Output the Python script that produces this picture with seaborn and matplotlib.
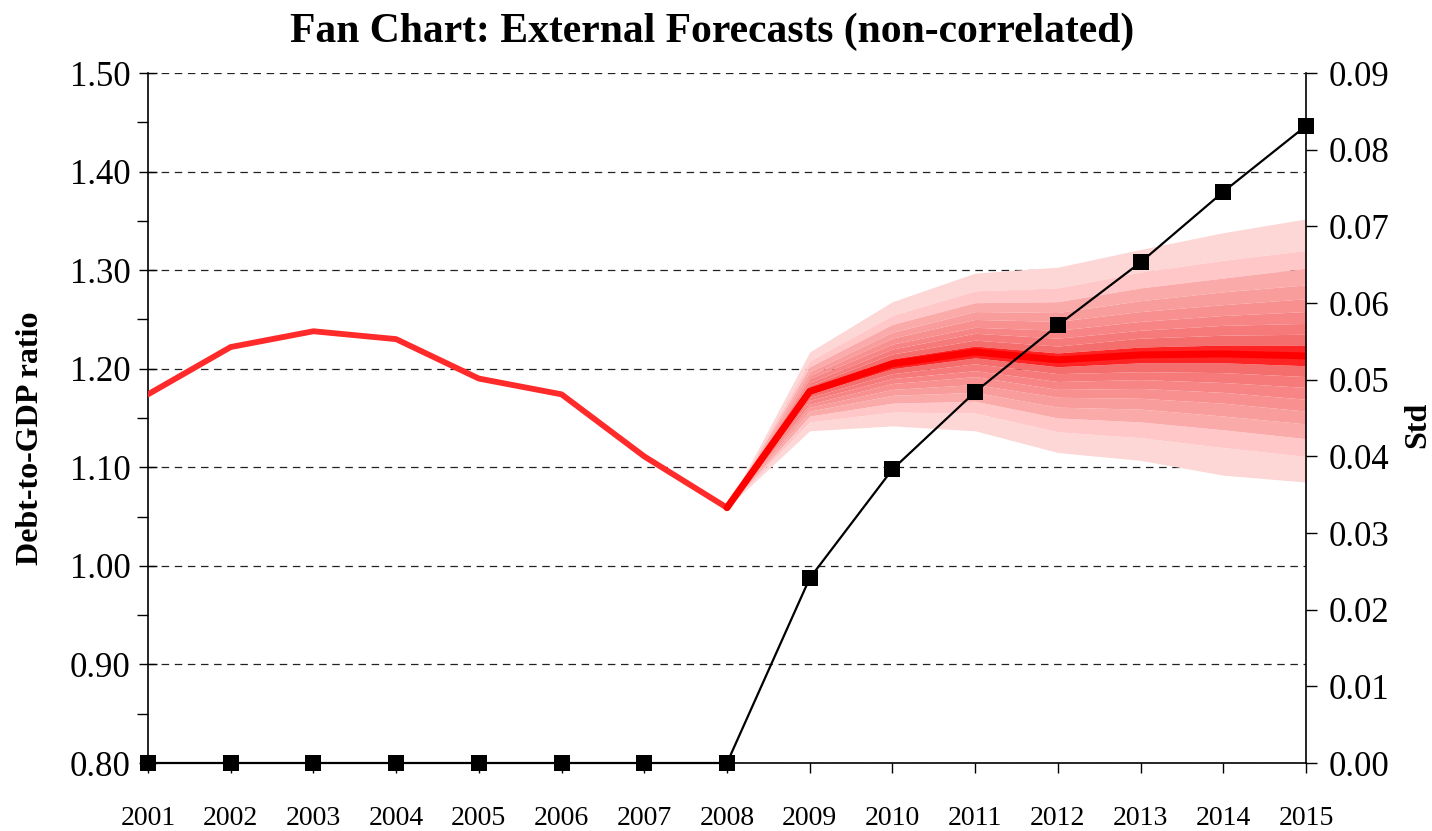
import matplotlib
matplotlib.use("Agg")
import matplotlib.pyplot as plt
from matplotlib.ticker import MultipleLocator, FormatStrFormatter
import pandas as pd
import seaborn as sns

# Historical debt-to-GDP ratio
hist_years = [2001, 2002, 2003, 2004, 2005, 2006, 2007, 2008]
debt_ratio = [1.174, 1.222, 1.238, 1.230, 1.190, 1.174, 1.111, 1.059]

# Forecast percentiles (2008 is the last observed value)
fc_years = [2008, 2009, 2010, 2011, 2012, 2013, 2014, 2015]
p05 = [1.059, 1.137, 1.142, 1.137, 1.115, 1.107, 1.092, 1.085]
p10 = [1.059, 1.146, 1.156, 1.155, 1.136, 1.130, 1.120, 1.111]
p15 = [1.059, 1.152, 1.165, 1.167, 1.150, 1.146, 1.138, 1.129]
p20 = [1.059, 1.157, 1.173, 1.176, 1.161, 1.159, 1.152, 1.144]
p25 = [1.059, 1.161, 1.179, 1.184, 1.171, 1.170, 1.165, 1.157]
p30 = [1.059, 1.164, 1.185, 1.192, 1.179, 1.180, 1.176, 1.169]
p35 = [1.059, 1.168, 1.190, 1.198, 1.187, 1.189, 1.186, 1.181]
p40 = [1.059, 1.171, 1.195, 1.205, 1.195, 1.197, 1.196, 1.192]
p45 = [1.059, 1.174, 1.200, 1.211, 1.202, 1.206, 1.206, 1.203]
p50 = [1.059, 1.177, 1.205, 1.217, 1.209, 1.214, 1.215, 1.213]
p55 = [1.059, 1.180, 1.210, 1.223, 1.216, 1.222, 1.224, 1.224]
p60 = [1.059, 1.183, 1.215, 1.229, 1.223, 1.231, 1.234, 1.235]
p65 = [1.059, 1.186, 1.220, 1.236, 1.231, 1.239, 1.244, 1.246]
p70 = [1.059, 1.190, 1.225, 1.242, 1.239, 1.248, 1.254, 1.258]
p75 = [1.059, 1.193, 1.231, 1.250, 1.248, 1.258, 1.265, 1.271]
p80 = [1.059, 1.197, 1.237, 1.258, 1.257, 1.269, 1.278, 1.285]
p85 = [1.059, 1.202, 1.245, 1.267, 1.268, 1.282, 1.292, 1.302]
p90 = [1.059, 1.208, 1.254, 1.279, 1.282, 1.298, 1.310, 1.320]
p95 = [1.059, 1.217, 1.268, 1.297, 1.303, 1.321, 1.338, 1.352]

# Standard deviation of the forecast (right axis)
std_years = [2001, 2002, 2003, 2004, 2005, 2006, 2007, 2008,
             2009, 2010, 2011, 2012, 2013, 2014, 2015]
std_values = [0.0, 0.0, 0.0, 0.0, 0.0, 0.0, 0.0, 0.0,
              0.0241, 0.0383, 0.0484, 0.0571, 0.0653, 0.0745, 0.0831]

left_ticks = [0.80, 0.90, 1.00, 1.10, 1.20, 1.30, 1.40, 1.50]
right_ticks = [0.00, 0.01, 0.02, 0.03, 0.04, 0.05, 0.06, 0.07, 0.08, 0.09]

sns.set_style("white")
plt.rcParams["font.family"] = ["Liberation Serif", "DejaVu Serif"]
plt.rcParams.update({"text.color": "black", "axes.labelcolor": "black",
                     "xtick.color": "black", "ytick.color": "black"})

fig = plt.figure(figsize=(14.32, 8.31), dpi=100)
ax = fig.add_axes([148 / 1432, 1 - 763 / 831, (1306 - 148) / 1432, (763 - 73) / 831])

# Fan bands, outermost to innermost
lower = [p05, p10, p15, p20, p25, p30, p35, p40, p45]
upper = [p95, p90, p85, p80, p75, p70, p65, p60, p55]
band_colors = ["#fdd6d6", "#ffc7c8", "#fbaaaa", "#f99c9c", "#f89090",
               "#f78585", "#f67a7a", "#f56e6e"]
for i, color in enumerate(band_colors):
    ax.fill_between(fc_years, lower[i], lower[i + 1], color=color, lw=0, zorder=2)
    ax.fill_between(fc_years, upper[i + 1], upper[i], color=color, lw=0, zorder=2)
ax.fill_between(fc_years, p45, p55, color="#ff2424", lw=0, zorder=2)

hist_df = pd.DataFrame({"year": hist_years, "ratio": debt_ratio})
median_df = pd.DataFrame({"year": fc_years, "ratio": p50})
sns.lineplot(data=hist_df, x="year", y="ratio", ax=ax, color="#ff2a2a",
             lw=4.2, zorder=3)
sns.lineplot(data=median_df, x="year", y="ratio", ax=ax, color="#ff0000",
             lw=5.0, zorder=3)

ax.set_xlim(2001, 2015)
ax.set_ylim(0.80, 1.50)
ax.set_yticks(left_ticks)
ax.yaxis.set_major_formatter(FormatStrFormatter("%.2f"))
ax.yaxis.set_minor_locator(MultipleLocator(0.05))
ax.set_xticks(std_years)
ax.set_xticklabels([str(y) for y in std_years])
ax.set_axisbelow(True)
ax.yaxis.grid(True, which="major", color="#222222", lw=0.9, ls=(0, (6, 4.5)))
ax.xaxis.grid(False)
ax.tick_params(axis="y", which="major", direction="inout", length=13, width=1,
               labelsize=25, pad=6, left=True)
ax.tick_params(axis="y", which="minor", direction="out", length=8, width=1,
               left=True)
ax.tick_params(axis="x", direction="out", length=7, width=1, bottom=True,
               labelsize=20, pad=24)
ax.set_xlabel("")
ax.set_ylabel("Debt-to-GDP ratio", fontsize=23, fontweight="bold")
ax.yaxis.set_label_coords((31 - 148) / 1158, (763 - 438) / 690)
ax.yaxis.label.set(ha="center", va="center", rotation_mode="anchor")
for side in ["top", "right"]:
    ax.spines[side].set_visible(False)
for side in ["left", "bottom"]:
    ax.spines[side].set_color("black")
    ax.spines[side].set_linewidth(1.2)

# Standard deviation on the secondary axis
ax2 = ax.twinx()
std_df = pd.DataFrame({"year": std_years, "std": std_values})
sns.lineplot(data=std_df, x="year", y="std", ax=ax2, color="black", lw=1.6,
             marker="s", markersize=11, markeredgewidth=0, clip_on=False, zorder=5)
ax2.set_ylim(0.0, 0.09)
ax2.set_yticks(right_ticks)
ax2.yaxis.set_major_formatter(FormatStrFormatter("%.2f"))
ax2.tick_params(axis="y", direction="out", length=8, width=1, right=True,
                labelsize=25, pad=8)
ax2.set_ylabel("Std", fontsize=23, fontweight="bold")
ax2.yaxis.set_label_coords((1418 - 148) / 1158, (763 - 425) / 690)
ax2.yaxis.label.set(ha="center", va="center", rotation_mode="anchor")
ax2.set_xlabel("")
ax2.spines["top"].set_visible(False)
ax2.spines["left"].set_visible(False)
ax2.spines["bottom"].set_visible(False)
ax2.spines["right"].set_color("black")
ax2.spines["right"].set_linewidth(1.2)
ax2.grid(False)

fig.text(712 / 1432, 1 - 32 / 831, "Fan Chart: External Forecasts (non-correlated)",
         ha="center", va="center", fontsize=30, fontweight="bold")

fig.savefig("out.png", dpi=100, facecolor="white")
